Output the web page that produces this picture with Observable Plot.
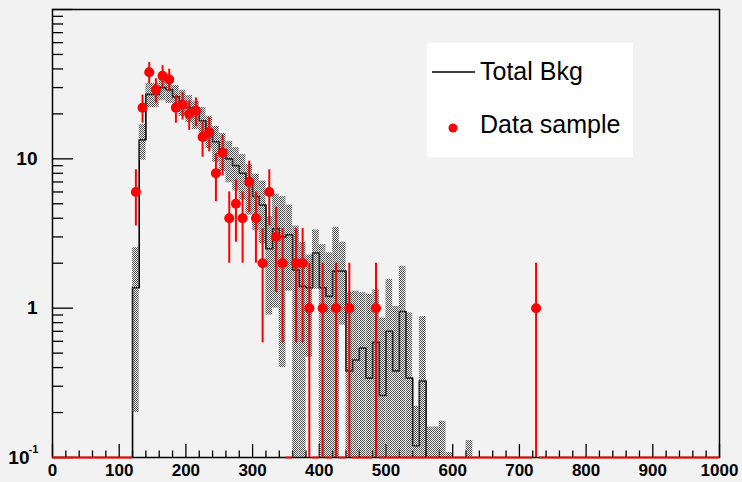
<!DOCTYPE html>
<html>
<head>
<meta charset="utf-8">
<script src="https://cdn.jsdelivr.net/npm/d3@7"></script>
<script src="https://cdn.jsdelivr.net/npm/@observablehq/plot@0.6"></script>
<style>
  html, body { margin: 0; padding: 0; background: #f2f2f2; }
  #wrap { position: relative; width: 742px; height: 482px; overflow: hidden; background: #f2f2f2; }
  #legend { position: absolute; left: 427px; top: 43px; width: 206px; height: 114px; background: #ffffff; }
  #legend svg { display: block; }
</style>
</head>
<body>
<div id="wrap"><div id="legend"></div></div>
<script>
// ---- data ----
const binWidth = 10;
const bkgFirstBin = 120;
const bkgValues = [1.37, 13.4, 27, 27, 30, 29, 26, 24, 22, 20, 18, 15.5, 13, 11.5, 10, 9, 8, 6.7, 5.6, 4.9,
  2.5, 3.4, 3.0, 3.1, 1.8, 1.4, 1.37, 2.34, 1.37, 1.2, 1.77, 1.77, 0.38, 0.45, 0.54, 0.34, 0.59, 0.26,
  0.70, 0.38, 0.95, 0.34, 0.12, 0.325, 0.08, 0.08, 0.09, 0.05, 0, 0, 0.065];
const bkgErrors = [1.17, 3.6, 5, 5, 5.5, 5.5, 5, 4.8, 4.5, 4.3, 4.1, 3.8, 3.5, 3.3, 3.1, 2.9, 2.7, 2.5, 2.3, 2.2,
  1.6, 2.4, 2.6, 1.8, 1.75, 1.35, 0.9, 1.0, 1.3, 1.15, 1.7, 1.0, 0.9, 0.85, 0.73, 0.9, 0.74, 0.6,
  0.86, 0.65, 0.96, 0.59, 0.1, 0.555, 0.08, 0.08, 0.085, 0.058, 0, 0, 0.065];
const dataCenters = [125, 135, 145, 155, 165, 175, 185, 195, 205, 215, 225, 235, 245, 255, 265, 275, 285, 295,
  305, 315, 325, 335, 345, 365, 375, 385, 405, 425, 445, 485, 725];
const dataCounts = [6, 22, 38, 29, 36, 34, 22, 23, 20, 21, 14, 15, 8, 11, 4, 5, 4, 7, 4, 2, 6, 3, 2, 2, 2, 1, 1, 1, 1, 1, 1];
const seriesNames = ["Total Bkg", "Data sample"];
const xDomain = [0, 1000];
const yDomain = [0.1, 100];
const xMajorTicks = [0, 100, 200, 300, 400, 500, 600, 700, 800, 900, 1000];
const yMajorTicks = [0.1, 1, 10, 100];
const yLabelTicks = [1, 10];

// ---- derived tables ----
const bkgBins = bkgValues.map((v, i) => {
  const x0 = bkgFirstBin + i * binWidth;
  return {x0, x1: x0 + binWidth, v, e: bkgErrors[i]};
});
const floorY = 0.01;
const stepPts = [{x: bkgFirstBin - binWidth, y: floorY}];
bkgBins.forEach(b => stepPts.push({x: b.x0, y: Math.max(b.v, floorY)}));
stepPts.push({x: bkgBins[bkgBins.length - 1].x1, y: floorY});
stepPts.push({x: bkgBins[bkgBins.length - 1].x1 + binWidth, y: floorY});
const bandRows = bkgBins.filter(b => b.e > 0).map(b => ({
  x0: b.x0, x1: b.x1, lo: Math.max(b.v - b.e, yDomain[0]), hi: b.v + b.e
}));
const dataRows = dataCenters.map((c, i) => {
  const n = dataCounts[i];
  return {x: c, n, lo: Math.max(n - Math.sqrt(n), floorY), hi: n + Math.sqrt(n)};
});
const filled = new Set(dataCenters.map(c => Math.floor(c / binWidth) * binWidth));
const zeroBins = d3.range(xDomain[0], xDomain[1], binWidth).filter(b => !filled.has(b)).map(b => ({x0: b, x1: b + binWidth}));
const xMinorTicks = d3.range(xDomain[0], xDomain[1] + 1, 20).filter(t => t % 100 !== 0);
const yMinorTicks = [0.1, 1, 10].flatMap(d => d3.range(2, 10).map(k => +(k * d).toPrecision(3)));

const font = "'Liberation Sans', Arial, Helvetica, sans-serif";

const chart = Plot.plot({
  width: 742,
  height: 482,
  marginLeft: 52,
  marginRight: 23,
  marginTop: 9,
  marginBottom: 25,
  style: {background: "#f2f2f2", fontFamily: font, color: "#000"},
  x: {domain: xDomain, label: null},
  y: {type: "log", domain: yDomain, label: null},
  marks: [
    Plot.frame({stroke: "#000", strokeWidth: 1.5}),
    Plot.axisX(xMajorTicks, {tickSize: -13, tickFormat: () => "", strokeWidth: 1.3}),
    Plot.axisX(xMinorTicks, {tickSize: -6.5, tickFormat: () => "", strokeWidth: 1.3}),
    Plot.axisX(xMajorTicks, {tickSize: 0, tickPadding: 6, fontSize: 17, fontWeight: "bold", tickFormat: d => String(d)}),
    Plot.axisY(yMajorTicks, {tickSize: -21, tickFormat: () => "", strokeWidth: 1.3}),
    Plot.axisY(yMinorTicks, {tickSize: -11, tickFormat: () => "", strokeWidth: 1.3}),
    Plot.axisY(yLabelTicks, {tickSize: 0, tickPadding: 15, fontSize: 19, fontWeight: "bold", tickFormat: d => String(d)}),
    Plot.text([yDomain[0]], {y: d => d, text: () => "10", frameAnchor: "left", textAnchor: "end", dx: -23, fontSize: 19, fontWeight: "bold"}),
    Plot.text([yDomain[0]], {y: d => d, text: () => "-1", frameAnchor: "left", textAnchor: "start", dx: -24, dy: -8, fontSize: 11, fontWeight: "bold"}),
    // total background histogram line
    Plot.line(stepPts, {x: "x", y: "y", curve: "step-after", stroke: "#000", strokeWidth: 1.6, clip: true}),
    // background uncertainty band (stippled)
    Plot.rect(bandRows, {x1: "x0", x2: "x1", y1: "lo", y2: "hi", fill: "url(#stipple)", clip: true}),
    // data: empty bins drawn on the lower edge
    Plot.ruleY(zeroBins, {y: () => yDomain[0], x1: "x0", x2: "x1", stroke: "#ff0000", strokeWidth: 2}),
    // data error bars and markers
    Plot.ruleX(dataRows, {x: "x", y1: "lo", y2: "hi", stroke: "#ff0000", strokeWidth: 2, clip: true}),
    Plot.dot(dataRows, {x: "x", y: "n", r: 5, fill: "#ff0000", stroke: null})
  ]
});

// stipple pattern for the band
const ns = "http://www.w3.org/2000/svg";
const defs = document.createElementNS(ns, "defs");
const pat = document.createElementNS(ns, "pattern");
pat.setAttribute("id", "stipple");
pat.setAttribute("patternUnits", "userSpaceOnUse");
pat.setAttribute("width", "2");
pat.setAttribute("height", "2");
[[0, 0], [1, 1]].forEach(([px, py]) => {
  const r = document.createElementNS(ns, "rect");
  r.setAttribute("x", px); r.setAttribute("y", py);
  r.setAttribute("width", 1); r.setAttribute("height", 1);
  r.setAttribute("fill", "#505050");
  pat.appendChild(r);
});
defs.appendChild(pat);
chart.insertBefore(defs, chart.firstChild);

const wrap = document.getElementById("wrap");
wrap.insertBefore(chart, wrap.firstChild);

// legend
const leg = d3.select("#legend").append("svg").attr("width", 206).attr("height", 114);
leg.append("line").attr("x1", 5).attr("x2", 48).attr("y1", 29).attr("y2", 29).attr("stroke", "#000").attr("stroke-width", 1.6);
leg.append("text").attr("x", 53).attr("y", 37).attr("font-family", font).attr("font-size", 25).text(seriesNames[0]);
leg.append("circle").attr("cx", 26).attr("cy", 85).attr("r", 4.5).attr("fill", "#ff0000");
leg.append("text").attr("x", 53).attr("y", 90).attr("font-family", font).attr("font-size", 25).text(seriesNames[1]);
</script>
</body>
</html>
